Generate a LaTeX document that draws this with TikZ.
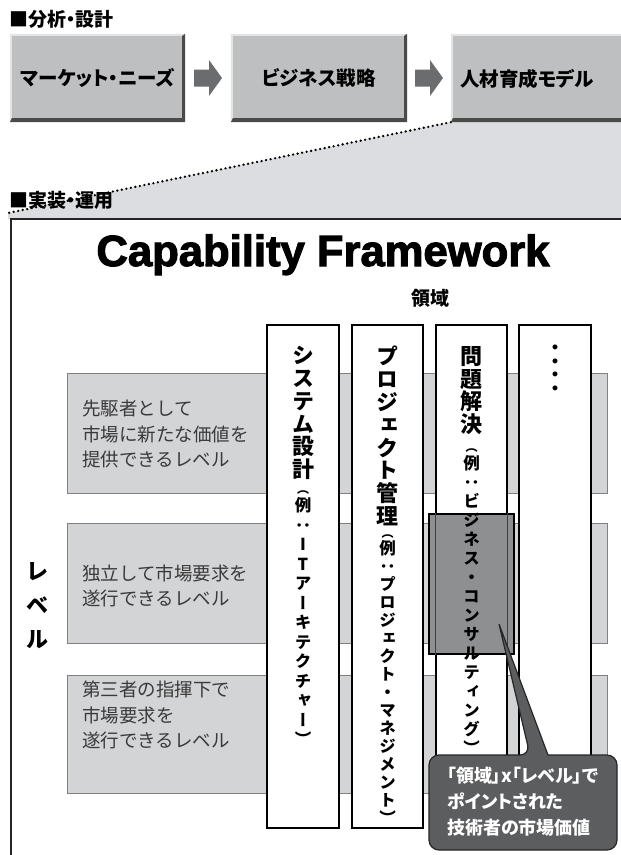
\documentclass[tikz,border=0pt]{standalone}
\usepackage{fontspec}
\usepackage{graphicx}
\setmainfont{Noto Sans CJK JP}
\newfontfamily\vjp{Noto Sans CJK JP}[RawFeature=+vert]
\newfontfamily\titlefont{Liberation Sans}[UprightFont={* Bold}, UprightFeatures={FakeBold=2.5}]
\usetikzlibrary{calc}
\definecolor{boxgray}{HTML}{BEBFC1}
\definecolor{bevdark}{HTML}{4A4A4A}
\definecolor{bevlight}{HTML}{E4E4E5}
\definecolor{arrowgray}{HTML}{6B6C6E}
\definecolor{zonegray}{HTML}{DCDDE0}
\definecolor{bandgray}{HTML}{D3D4D6}
\definecolor{bandedge}{HTML}{808082}
\definecolor{hlgray}{HTML}{8E8F91}
\definecolor{callgray}{HTML}{5C5D5F}
\definecolor{lvtextc}{HTML}{3A3A3A}
\newlength\vcw \setlength\vcw{30pt}
\def\vchend{\vchend}
\newcommand\vchars[1]{\vchA#1\vchend}
\def\vchA#1{\ifx#1\vchend\else\hbox to\vcw{\hss#1\hss}\expandafter\vchA\fi}
\newcommand\vsz[2]{\fontsize{#1}{#2}\selectfont\lineskiplimit=-100pt\lineskip=0pt}
\newcommand\boxbevel[1]{%
  \fill[bevlight] (#1.south west) -- (#1.north west) -- (#1.north east) -- ($(#1.north east)+(-2,2)$) -- ($(#1.north west)+(2,2)$) -- ($(#1.south west)+(2,-2)$) -- cycle;
  \fill[bevdark] (#1.north east) -- (#1.south east) -- (#1.south west) -- ($(#1.south west)+(2,-4)$) -- ($(#1.south east)+(-3,-4)$) -- ($(#1.north east)+(-3,2)$) -- cycle;}
\newcommand\blockarrow[1]{%
  \fill[arrowgray] ($(#1)+(-14,-8.5)$) -- ($(#1)+(1,-8.5)$) -- ($(#1)+(1,-18)$) -- ($(#1)+(14,0)$) -- ($(#1)+(1,18)$) -- ($(#1)+(1,8.5)$) -- ($(#1)+(-14,8.5)$) -- cycle;}
\begin{document}
\begin{tikzpicture}[x=1pt,y=-1pt,
  topbox/.style={fill=boxgray, inner sep=0, minimum height=88pt, font=\bfseries\fontsize{19.5}{21}\selectfont\addfontfeature{RawFeature=+palt}},
  headlabel/.style={anchor=west, inner sep=0, font=\bfseries\fontsize{19}{20}\selectfont\addfontfeature{RawFeature=+palt}},
  band/.style={fill=bandgray, draw=bandedge, line width=1pt, inner sep=0, minimum width=540pt, minimum height=120pt},
  colbox/.style={fill=white, draw=black, line width=1.1pt, inner sep=0, minimum height=503pt},
  lvtext/.style={anchor=west, inner sep=0, align=left, text=lvtextc, font=\fontsize{18.5}{25.5}\selectfont},
  vtext/.style={anchor=north, inner sep=0},
  dotline/.style={line width=2.6pt, dash pattern=on 0pt off 4.6pt, line cap=round},
]
\useasboundingbox (0,0) rectangle (621,855);
\fill[white] (0,0) rectangle (621,855);
% top boxes
\node[topbox, minimum width=175pt] (b1) at (97.5,78) {マーケット・ニーズ};
\node[topbox, minimum width=176pt] (b2) at (319,78) {ビジネス戦略};
\node[topbox, minimum width=175pt] (b3) at (538.5,78) {};
% zone under the dotted line
\coordinate (dotlow) at (8,213);
\fill[zonegray] (dotlow) -- (b3.south west) -- (b3.south east) -- (626,219) -- (8,219) -- cycle;
\draw[dotline] (b3.south west) -- (dotlow);
\boxbevel{b1}
\boxbevel{b2}
\boxbevel{b3}
\node[inner sep=0, font=\bfseries\fontsize{19.5}{21}\selectfont\addfontfeature{RawFeature=+palt}] (b3t) at (527,79) {人材育成モデル};
\coordinate (m1) at ($(b1.east)!0.5!(b2.west)$);
\coordinate (m2) at ($(b2.east)!0.5!(b3.west)$);
\blockarrow{m1}
\blockarrow{m2}
\node[headlabel] (lab1) at (9,19) {■分析・設計};
\node[headlabel] (lab2) at (9,200) {■実装・運用};
% framework frame
\draw[line width=1.3pt, draw=black!85] (11,860) -- (11,219) -- (630,219);
\node[inner sep=0, anchor=base] (title) at (323,266) {\resizebox{453pt}{!}{\titlefont Capability Framework}};
\node[inner sep=0, font=\bfseries\fontsize{19}{20}\selectfont] (ry) at (430,298) {領域};
% level bands
\node[band] (r1) at (337,433) {};
\node[band] (r2) at (337,583.5) {};
\node[band, minimum height=118pt] (r3) at (337,734) {};
% domain columns
\node[colbox, minimum width=72pt] (c1) at (303,576.5) {};
\node[colbox, minimum width=71pt] (c2) at (387.5,576.5) {};
\node[colbox, minimum width=71pt] (c3) at (471.5,576.5) {};
\node[colbox, minimum width=72pt] (c4) at (555,576.5) {};
% highlighted cell
\node[fill=hlgray, draw=black, line width=2pt, inner sep=0, minimum width=85pt, minimum height=140pt] (hl) at (471.5,584) {};
\draw[line width=1pt, draw=black!75] (c3.west |- hl.north) -- (c3.west |- hl.south);
\draw[line width=1pt, draw=black!75] (c3.east |- hl.north) -- (c3.east |- hl.south);
% column texts
\node[vtext] (t1) at (303,346) {\vbox{\vjp\bfseries\vsz{22}{22.8}\vchars{システム設計}\vsz{12}{15.5}\vchars{（}\vsz{16.5}{18.5}\vchars{例}\vsz{16.5}{19.5}\vchars{：ITアーキテクチャー）}}};
\node[vtext] (t2) at (387.5,346) {\vbox{\vjp\bfseries\vsz{22}{22.8}\vchars{プロジェクト管理}\vsz{12}{13.5}\vchars{（}\vsz{16.5}{16.9}\vchars{例}\vsz{16.5}{18}\vchars{：プロジェクト・マネジメント）}}};
\node[vtext] (t3) at (471.5,346) {\vbox{\vjp\bfseries\vsz{22}{22.8}\vchars{問題解決}\vsz{12}{18.6}\vchars{（}\vsz{16.5}{18}\vchars{例}\vsz{16.5}{19}\vchars{：ビジネス・コンサルティング）}}};
\node[vtext] (t4) at (555,345) {\vbox{\vsz{5.5}{13.5}\vchars{●●●●}}};
% level texts
\node[lvtext] (l1) at (82,434) {先駆者として\\市場に新たな価値を\\提供できるレベル};
\node[lvtext] (l2) at (82,586) {独立して市場要求を\\遂行できるレベル};
\node[lvtext] (l3) at (82,715) {第三者の指揮下で\\市場要求を\\遂行できるレベル};
\node[vtext] (lv) at (37,562) {\vbox{\bfseries\vsz{22}{34}\vchars{レベル}}};
% callout
\coordinate (tip) at (499,624);
\fill[callgray, draw=black!85, line width=1.2pt] (429,800) [rounded corners=10pt] -- (429,755) -- (530,755) [sharp corners] -- (tip) -- (548,755) [rounded corners=10pt] -- (617,755) -- (617,850) -- (429,850) -- cycle;
\node[anchor=north west, inner sep=0, align=left, text=white, font=\bfseries\fontsize{18}{26}\selectfont\addfontfeature{RawFeature=+palt}] (ct) at (447,767) {「領域」x「レベル」で\\ポイントされた\\技術者の市場価値};
\end{tikzpicture}
\end{document}
